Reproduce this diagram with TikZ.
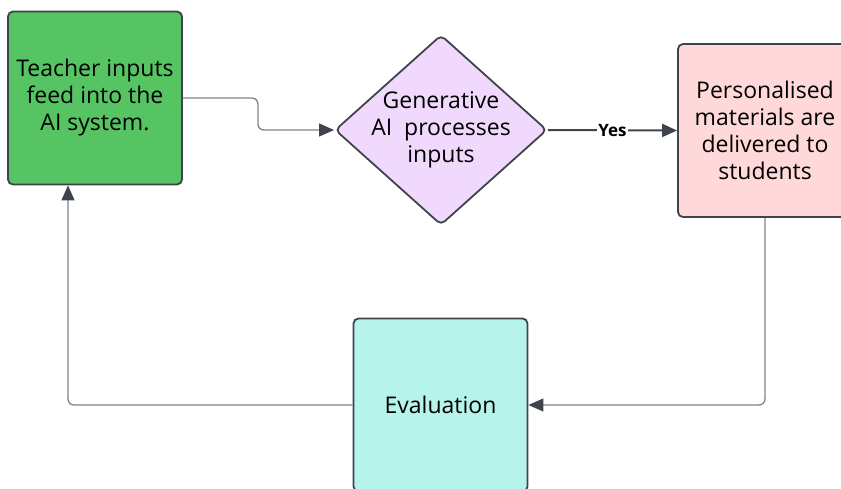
\documentclass[tikz,border=0pt]{standalone}
\usepackage{fontspec}
\setmainfont{Open Sans}
\usetikzlibrary{shapes.geometric,arrows.meta}

\definecolor{boxline}{HTML}{3F444C}
\definecolor{flowline}{HTML}{7E838A}
\definecolor{teachergreen}{HTML}{56C463}
\definecolor{aipurple}{HTML}{F0D9FC}
\definecolor{deliverpink}{HTML}{FFD9D9}
\definecolor{evalteal}{HTML}{B5F3EB}

\tikzset{
  stepbox/.style={rectangle, rounded corners=5pt, draw=boxline, line width=1.8pt,
    minimum width=174pt, minimum height=173pt, align=center,
    font=\fontsize{23}{27}\selectfont},
  decision/.style={diamond, aspect=1.12, rounded corners=5pt, draw=boxline, line width=1.8pt,
    fill=aipurple, minimum width=212pt, minimum height=190pt, inner sep=-12pt,
    align=center, font=\fontsize{23}{27}\selectfont},
  flow/.style={draw=flowline, line width=1.3pt, rounded corners=6pt,
    -{Triangle[length=15pt,width=13pt,color=boxline]}},
  yesflow/.style={draw=boxline, line width=2pt,
    -{Triangle[length=15pt,width=13pt]}}
}

\begin{document}
\begin{tikzpicture}[x=1pt,y=-1pt]
        \useasboundingbox (0,0) rectangle (841,489);

        % Process steps
        \node[stepbox, fill=teachergreen] (teacher) at (95,98) {Teacher inputs\\feed into the\\AI system.};
        \node[decision] (genai) at (441,130) {Generative\\AI\ \ processes\\inputs};
        \node[stepbox, fill=deliverpink] (deliver) at (765,130.5) {Personalised\\materials are\\delivered to\\students};
        \node[stepbox, fill=evalteal] (evaluation) at (440.5,405) {Evaluation};

        % Connectors
        \draw[flow] (teacher.east) -- ++(75,0) |- (genai.west);
        \draw[yesflow] (genai.east) -- node[fill=white, inner sep=1pt, font=\bfseries\fontsize{17}{20}\selectfont] {Yes} (deliver.west);
        \draw[flow] (deliver.south) |- (evaluation.east);
        \draw[flow] (evaluation.west) -| ([xshift=-27pt]teacher.south);
    \end{tikzpicture}
\end{document}
